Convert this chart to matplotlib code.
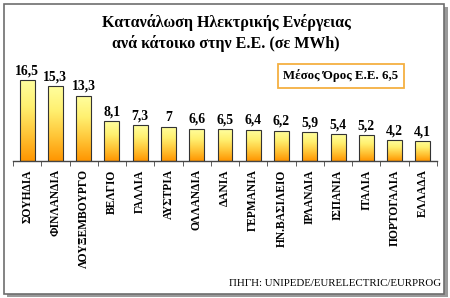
import numpy as np
import matplotlib
matplotlib.use("Agg")
import matplotlib.pyplot as plt
from matplotlib.colors import LinearSegmentedColormap
from matplotlib.patches import Rectangle

countries = ["ΣΟΥΗΔΙΑ", "ΦΙΝΛΑΝΔΙΑ", "ΛΟΥΞΕΜΒΟΥΡΓΟ", "ΒΕΛΓΙΟ", "ΓΑΛΛΙΑ", "ΑΥΣΤΡΙΑ",
             "ΟΛΛΑΝΔΙΑ", "ΔΑΝΙΑ", "ΓΕΡΜΑΝΙΑ", "ΗΝ.ΒΑΣΙΛΕΙΟ", "ΙΡΛΑΝΔΙΑ", "ΙΣΠΑΝΙΑ",
             "ΙΤΑΛΙΑ", "ΠΟΡΤΟΓΑΛΙΑ", "ΕΛΛΑΔΑ"]
values = [16.5, 15.3, 13.3, 8.1, 7.3, 7.0, 6.6, 6.5, 6.4, 6.2, 5.9, 5.4, 5.2, 4.2, 4.1]
value_labels = ["16,5", "15,3", "13,3", "8,1", "7,3", "7", "6,6", "6,5", "6,4", "6,2",
                "5,9", "5,4", "5,2", "4,2", "4,1"]
title = "Κατανάλωση Ηλεκτρικής Ενέργειας\nανά κάτοικο στην Ε.Ε. (σε MWh)"
avg_label = "Μέσος Όρος Ε.Ε. 6,5"
source = "ΠΗΓΗ: UNIPEDE/EURELECTRIC/EURPROG"

plt.rcParams["font.family"] = ["Liberation Serif", "DejaVu Serif"]

fig = plt.figure(figsize=(4.5, 2.98), dpi=100)
fig.patch.set_facecolor("white")

# frame with a small shadow
fig.patches.append(Rectangle((7 / 450, 1 - 297 / 298), 441 / 450, 290 / 298,
                             transform=fig.transFigure, facecolor="#9a9a9a",
                             edgecolor="none", zorder=-2))
fig.patches.append(Rectangle((4 / 450, 1 - 294 / 298), 440 / 450, 290 / 298,
                             transform=fig.transFigure, facecolor="white",
                             edgecolor="#6e6e6e", linewidth=1.2, zorder=-1))

n = len(values)
ax = fig.add_axes([13 / 450, 1 - 161 / 298, 424 / 450, 88.4 / 298])
ax.set_zorder(2)
ax.set_facecolor("none")
x = np.arange(n)
bars = ax.bar(x, values, width=0.53, color="none", edgecolor="#333333", linewidth=0.8, zorder=3)

cmap = LinearSegmentedColormap.from_list("g", ["#FF9500", "#FFC638", "#FFF070", "#FFFFA0"])
grad = np.linspace(0, 1, 256).reshape(-1, 1)
for b in bars:
    x0, w, h = b.get_x(), b.get_width(), b.get_height()
    im = ax.imshow(grad, extent=[x0, x0 + w, 0, h], origin="lower", cmap=cmap,
                   aspect="auto", zorder=2)
    im.set_clip_path(b)

for xi, v, lab in zip(x, values, value_labels):
    ax.text(xi, v + 0.55, lab, ha="center", va="bottom", fontsize=9.8, fontweight="bold")

ax.set_xlim(-0.5, n - 0.5)
ax.set_ylim(0, 18)
for s in ["top", "right", "left"]:
    ax.spines[s].set_visible(False)
ax.spines["bottom"].set_color("#444444")
ax.spines["bottom"].set_linewidth(1.0)
ax.set_yticks([])
ax.set_xticks(x)
ax.set_xticklabels(countries, rotation=90, fontsize=8.3, fontweight="bold")
ax.tick_params(axis="x", which="major", length=0, pad=6)
ax.set_xticks(np.arange(-0.5, n, 1), minor=True)
ax.tick_params(axis="x", which="minor", length=3.5, color="#444444", direction="out")

fig.text(226 / 450, 1 - 33 / 298, title, ha="center", va="center", fontsize=11.5,
         fontweight="bold", linespacing=1.35)

fig.text(341 / 450, 1 - 76 / 298, avg_label, ha="center", va="center", fontsize=9.3,
         fontweight="bold",
         bbox=dict(boxstyle="square,pad=0.4", facecolor="white", edgecolor="#F5B041",
                   linewidth=1.3))

fig.text(441 / 450, 1 - 283 / 298, source, ha="right", va="center", fontsize=7.8)

fig.savefig("out.png", dpi=100)
